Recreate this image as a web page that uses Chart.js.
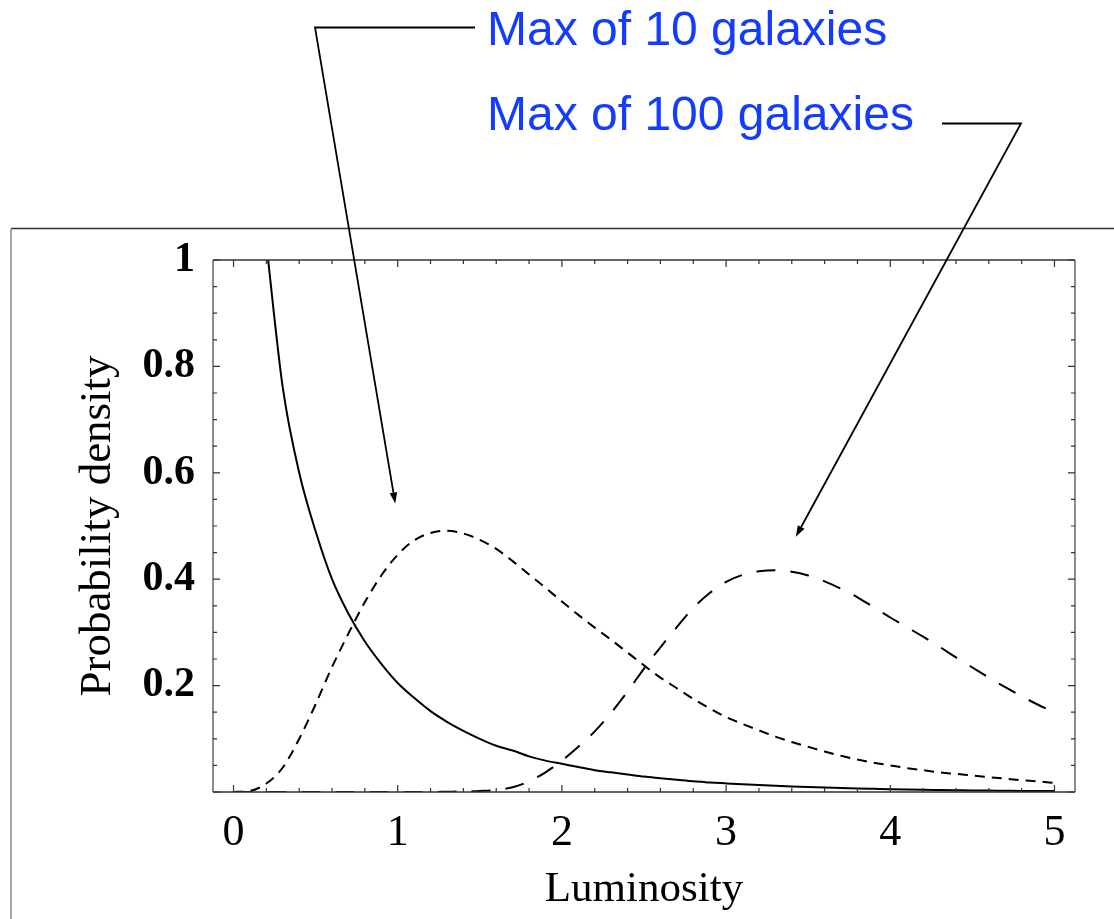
<!DOCTYPE html>
<html>
<head>
<meta charset="utf-8">
<script src="https://cdn.jsdelivr.net/npm/chart.js@4.4.1/dist/chart.umd.min.js"></script>
<style>
  html, body { margin: 0; padding: 0; background: #fff; }
  canvas { display: block; }
</style>
</head>
<body>
<canvas id="chart" width="1114" height="919"></canvas>
<script>
// Luminosity grid (in units of L*) shared by all curves
const luminosity = [
  0.0, 0.1, 0.2, 0.3, 0.4, 0.5, 0.6, 0.7, 0.8, 0.9,
  1.0, 1.1, 1.2, 1.3, 1.4, 1.5, 1.6, 1.7, 1.8, 1.9,
  2.0, 2.1, 2.2, 2.3, 2.4, 2.5, 2.6, 2.7, 2.8, 2.9,
  3.0, 3.1, 3.2, 3.3, 3.4, 3.5, 3.6, 3.7, 3.8, 3.9,
  4.0, 4.1, 4.2, 4.3, 4.4, 4.5, 4.6, 4.7, 4.8, 4.9, 5.0
];

// Single-galaxy luminosity distribution (off the top of the plot below L = 0.2)
const densitySingle = [
  null, null, 1.03, 0.76, 0.60, 0.49, 0.40, 0.335, 0.283, 0.241,
  0.205, 0.177, 0.152, 0.132, 0.115, 0.100, 0.087, 0.078, 0.067, 0.059,
  0.053, 0.047, 0.041, 0.037, 0.033, 0.029, 0.026, 0.023, 0.020, 0.018,
  0.0162, 0.0145, 0.013, 0.0117, 0.0105, 0.0094, 0.0084, 0.0075, 0.0067, 0.006,
  0.0053, 0.0047, 0.0042, 0.0038, 0.0034, 0.003, 0.0027, 0.0024, 0.0021, 0.0019, 0.0017
];

// Distribution of the brightest of 10 galaxies
const densityMax10 = [
  0, 0.002, 0.016, 0.046, 0.10, 0.165, 0.235, 0.298, 0.357, 0.407,
  0.446, 0.473, 0.487, 0.491, 0.486, 0.474, 0.457, 0.434, 0.409, 0.384,
  0.358, 0.333, 0.309, 0.286, 0.262, 0.238, 0.215, 0.195, 0.175, 0.157,
  0.141, 0.128, 0.116, 0.104, 0.094, 0.085, 0.076, 0.068, 0.061, 0.055,
  0.050, 0.045, 0.041, 0.037, 0.034, 0.031, 0.028, 0.025, 0.022, 0.020, 0.017
];

// Distribution of the brightest of 100 galaxies
const densityMax100 = [
  0, 0, 0, 0, 0, 0, 0, 0, 0, 0,
  0, 0, 0, 0.0005, 0.001, 0.002, 0.004, 0.009, 0.02, 0.037,
  0.059, 0.085, 0.114, 0.149, 0.189, 0.232, 0.272, 0.31, 0.346, 0.374,
  0.395, 0.408, 0.415, 0.417, 0.414, 0.407, 0.396, 0.382, 0.366, 0.347,
  0.328, 0.31, 0.292, 0.273, 0.253, 0.234, 0.215, 0.197, 0.18, 0.164, 0.15
];

const xTickLabels = ['0', '1', '2', '3', '4', '5'];
const yTickLabels = ['0.2', '0.4', '0.6', '0.8', '1'];

// Callout labels and where their arrows point (data coordinates)
const callouts = [
  { text: 'Max of 10 galaxies', tip: { x: 0.985, y: 0.5425 } },
  { text: 'Max of 100 galaxies', tip: { x: 3.425, y: 0.48 } }
];

const toPoints = values => luminosity.map((x, i) => ({ x, y: values[i] }));

const isMultiple = (v, step) => Math.abs(v / step - Math.round(v / step)) < 1e-6;

function drawArrow(ctx, path, tip) {
  ctx.beginPath();
  ctx.moveTo(path[0][0], path[0][1]);
  for (let i = 1; i < path.length; i++) ctx.lineTo(path[i][0], path[i][1]);
  const last = path[path.length - 1];
  const ang = Math.atan2(tip[1] - last[1], tip[0] - last[0]);
  const headLen = 11, headHalf = 3.8;
  const bx = tip[0] - headLen * Math.cos(ang), by = tip[1] - headLen * Math.sin(ang);
  ctx.lineTo(bx, by);
  ctx.stroke();
  ctx.beginPath();
  ctx.moveTo(tip[0], tip[1]);
  ctx.lineTo(bx + headHalf * Math.sin(ang), by - headHalf * Math.cos(ang));
  ctx.lineTo(bx - headHalf * Math.sin(ang), by + headHalf * Math.cos(ang));
  ctx.closePath();
  ctx.fill();
}

const framePlugin = {
  id: 'framePlugin',
  beforeDraw(chart) {
    const { ctx, width, height } = chart;
    ctx.save();
    ctx.fillStyle = '#fff';
    ctx.fillRect(0, 0, width, height);
    // page border
    ctx.lineWidth = 1.5;
    ctx.strokeStyle = '#333';
    ctx.beginPath();
    ctx.moveTo(11, 228.5);
    ctx.lineTo(width, 228.5);
    ctx.stroke();
    ctx.strokeStyle = '#888';
    ctx.beginPath();
    ctx.moveTo(11, 228.5);
    ctx.lineTo(11, height);
    ctx.stroke();
    ctx.restore();
  },
  afterDatasetsDraw(chart) {
    const { ctx, chartArea: a, scales: { x, y } } = chart;
    ctx.save();
    // plot frame
    ctx.lineWidth = 1.5;
    ctx.strokeStyle = '#666';
    ctx.beginPath();
    ctx.moveTo(a.left, a.top); ctx.lineTo(a.left, a.bottom);
    ctx.moveTo(a.right, a.top); ctx.lineTo(a.right, a.bottom);
    ctx.stroke();
    ctx.strokeStyle = '#333';
    ctx.beginPath();
    ctx.moveTo(a.left, a.top); ctx.lineTo(a.right, a.top);
    ctx.moveTo(a.left, a.bottom); ctx.lineTo(a.right, a.bottom);
    ctx.stroke();
    // inward tick marks on all four sides
    ctx.lineWidth = 1.2;
    ctx.strokeStyle = '#333';
    ctx.beginPath();
    x.ticks.forEach(t => {
      const px = x.getPixelForValue(t.value);
      const len = isMultiple(t.value, 1) ? 7 : 4;
      ctx.moveTo(px, a.bottom); ctx.lineTo(px, a.bottom - len);
      ctx.moveTo(px, a.top); ctx.lineTo(px, a.top + len);
    });
    y.ticks.forEach(t => {
      const py = y.getPixelForValue(t.value);
      const len = isMultiple(t.value, 0.2) ? 7 : 4;
      ctx.moveTo(a.left, py); ctx.lineTo(a.left + len, py);
      ctx.moveTo(a.right, py); ctx.lineTo(a.right - len, py);
    });
    ctx.stroke();
    ctx.restore();
  },
  afterDraw(chart) {
    const { ctx, scales: { x, y } } = chart;
    ctx.save();
    // callout text
    ctx.fillStyle = 'rgb(20,60,255)';
    ctx.font = '48px "Liberation Sans", Arial, sans-serif';
    ctx.textBaseline = 'alphabetic';
    ctx.fillText(callouts[0].text, 487, 45);
    ctx.fillText(callouts[1].text, 487, 130);
    // callout arrows
    ctx.strokeStyle = '#000';
    ctx.fillStyle = '#000';
    ctx.lineWidth = 1.8;
    const tip1 = [x.getPixelForValue(callouts[0].tip.x), y.getPixelForValue(callouts[0].tip.y)];
    const tip2 = [x.getPixelForValue(callouts[1].tip.x), y.getPixelForValue(callouts[1].tip.y)];
    drawArrow(ctx, [[475, 27.5], [315, 27.5]], tip1);
    drawArrow(ctx, [[942, 123.5], [1021, 123.5]], tip2);
    ctx.restore();
  }
};

const lineStyle = {
  borderColor: '#000',
  borderWidth: 2,
  pointRadius: 0,
  fill: false,
  cubicInterpolationMode: 'monotone'
};

new Chart(document.getElementById('chart'), {
  type: 'line',
  data: {
    datasets: [
      { ...lineStyle, label: 'Single galaxy', data: toPoints(densitySingle) },
      { ...lineStyle, label: 'Max of 10 galaxies', data: toPoints(densityMax10), borderDash: [10, 7] },
      { ...lineStyle, label: 'Max of 100 galaxies', data: toPoints(densityMax100), borderDash: [19, 15] }
    ]
  },
  options: {
    responsive: false,
    devicePixelRatio: 1,
    animation: false,
    events: [],
    layout: { padding: { top: 260, right: 39, left: 0, bottom: 0 } },
    plugins: {
      legend: { display: false },
      tooltip: { enabled: false }
    },
    scales: {
      x: {
        type: 'linear',
        min: -0.125,
        max: 5.125,
        grid: { display: false, drawTicks: false },
        border: { display: false },
        afterBuildTicks(scale) {
          const ticks = [];
          for (let i = 0; i <= 25; i++) ticks.push({ value: i * 0.2 });
          scale.ticks = ticks;
        },
        afterFit(scale) { scale.height = 127; },
        ticks: {
          autoSkip: false,
          maxRotation: 0,
          padding: 15,
          color: '#000',
          font: { family: '"Liberation Serif", "Times New Roman", serif', size: 44 },
          callback: v => isMultiple(v, 1) ? xTickLabels[Math.round(v)] : ''
        },
        title: {
          display: true,
          text: 'Luminosity',
          color: '#000',
          font: { family: '"Liberation Serif", "Times New Roman", serif', size: 43 },
          padding: { top: 0, bottom: 3 }
        }
      },
      y: {
        type: 'linear',
        min: 0,
        max: 1,
        grid: { display: false, drawTicks: false },
        border: { display: false },
        afterBuildTicks(scale) {
          const ticks = [];
          for (let i = 0; i <= 20; i++) ticks.push({ value: i * 0.05 });
          scale.ticks = ticks;
        },
        afterFit(scale) { scale.width = 213; },
        ticks: {
          autoSkip: false,
          padding: 18,
          color: '#000',
          font: { family: '"Liberation Serif", "Times New Roman", serif', size: 42, weight: 'bold' },
          callback: v => (isMultiple(v, 0.2) && Math.round(v / 0.2) > 0) ? yTickLabels[Math.round(v / 0.2) - 1] : ''
        },
        title: {
          display: true,
          text: 'Probability density',
          color: '#000',
          font: { family: '"Liberation Serif", "Times New Roman", serif', size: 45 },
          padding: { top: 71, bottom: 0 }
        }
      }
    }
  },
  plugins: [framePlugin]
});
</script>
</body>
</html>
